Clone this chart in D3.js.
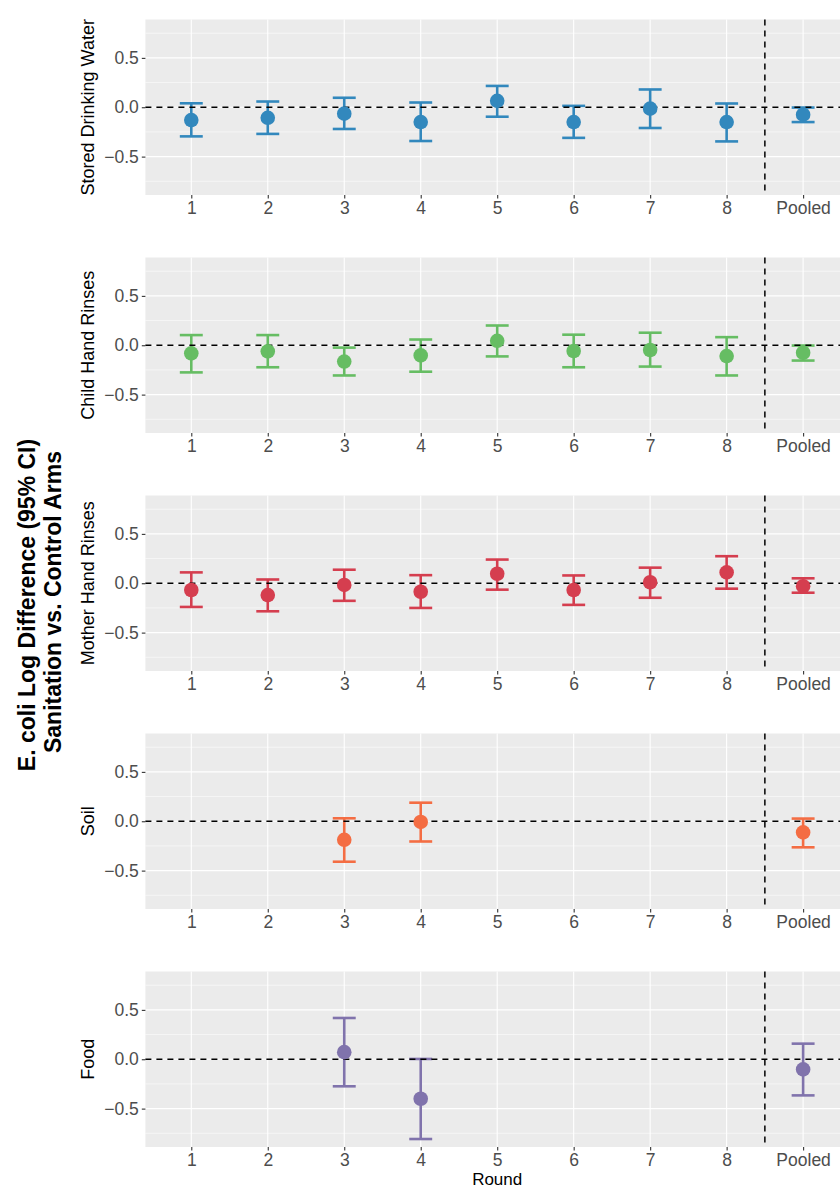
<!DOCTYPE html>
<html>
<head>
<meta charset="utf-8">
<script src="https://cdn.jsdelivr.net/npm/d3@7"></script>
<style>
  html, body { margin: 0; padding: 0; background: #fff; }
  svg { display: block; }
  text { font-family: "Liberation Sans", Arial, Helvetica, sans-serif; }
</style>
</head>
<body>
<svg id="chart" width="840" height="1189"></svg>
<script>
// ---- data ----
const rounds = ["1", "2", "3", "4", "5", "6", "7", "8", "Pooled"];
const panelNames = ["Stored Drinking Water", "Child Hand Rinses", "Mother Hand Rinses", "Soil", "Food"];
const panelColors = ["#3288BD", "#66BD63", "#D53E4F", "#F46D43", "#8073AC"];
const yTicks = [-0.5, 0.0, 0.5];
const yMinorTicks = [-0.75, -0.25, 0.25, 0.75];

const sdwEst = [-0.130, -0.107, -0.065, -0.150, 0.065, -0.150, -0.014, -0.150, -0.075];
const sdwLo  = [-0.295, -0.270, -0.220, -0.342, -0.096, -0.310, -0.210, -0.346, -0.150];
const sdwHi  = [0.040, 0.058, 0.096, 0.048, 0.216, 0.014, 0.180, 0.038, -0.003];

const chrEst = [-0.082, -0.062, -0.165, -0.103, 0.045, -0.058, -0.048, -0.110, -0.076];
const chrLo  = [-0.275, -0.223, -0.306, -0.268, -0.113, -0.223, -0.216, -0.306, -0.155];
const chrHi  = [0.103, 0.103, -0.024, 0.058, 0.200, 0.107, 0.127, 0.082, -0.003];

const mhrEst = [-0.068, -0.120, -0.017, -0.086, 0.096, -0.068, 0.010, 0.110, -0.030];
const mhrLo  = [-0.240, -0.284, -0.178, -0.250, -0.065, -0.219, -0.147, -0.055, -0.096];
const mhrHi  = [0.110, 0.038, 0.137, 0.082, 0.240, 0.079, 0.158, 0.274, 0.050];

const soilEst = [null, null, -0.188, -0.007, null, null, null, null, -0.113];
const soilLo  = [null, null, -0.410, -0.205, null, null, null, null, -0.264];
const soilHi  = [null, null, 0.030, 0.188, null, null, null, null, 0.027];

const foodEst = [null, null, 0.072, -0.400, null, null, null, null, -0.103];
const foodLo  = [null, null, -0.274, -0.808, null, null, null, null, -0.366];
const foodHi  = [null, null, 0.418, 0.003, null, null, null, null, 0.158];

const panelData = [
  [sdwEst, sdwLo, sdwHi],
  [chrEst, chrLo, chrHi],
  [mhrEst, mhrLo, mhrHi],
  [soilEst, soilLo, soilHi],
  [foodEst, foodLo, foodHi]
];

// ---- layout ----
const svg = d3.select("#chart");
const plotLeft = 145.4, plotRight = 849;
const panelTop0 = 19.5, panelStep = 238, panelH = 175.5;
const tickFont = 17.5, titleFont = 18, bigFont = 23;

const x = d3.scalePoint().domain(rounds).range([plotLeft, plotRight]).padding(0.6);
const step = x.step();

// symmetric y-limit from data, expanded 10%
let maxAbs = 0;
panelData.forEach(([e, lo, hi]) => {
  lo.concat(hi).forEach(v => { if (v != null) maxAbs = Math.max(maxAbs, Math.abs(v)); });
});
const yLim = maxAbs * 1.1;

panelNames.forEach((name, i) => {
  const top = panelTop0 + i * panelStep;
  const y = d3.scaleLinear().domain([-yLim, yLim]).range([top + panelH, top]);
  const g = svg.append("g");
  const col = panelColors[i];
  const [est, lo, hi] = panelData[i];

  g.append("rect").attr("x", plotLeft).attr("y", top)
    .attr("width", plotRight - plotLeft).attr("height", panelH).attr("fill", "#EBEBEB");

  g.selectAll(".minor").data(yMinorTicks).enter().append("line")
    .attr("x1", plotLeft).attr("x2", plotRight)
    .attr("y1", d => y(d)).attr("y2", d => y(d))
    .attr("stroke", "#fff").attr("stroke-width", 0.55);

  g.selectAll(".major").data(yTicks).enter().append("line")
    .attr("x1", plotLeft).attr("x2", plotRight)
    .attr("y1", d => y(d)).attr("y2", d => y(d))
    .attr("stroke", "#fff").attr("stroke-width", 1.1);

  g.selectAll(".vgrid").data(rounds).enter().append("line")
    .attr("x1", d => x(d)).attr("x2", d => x(d))
    .attr("y1", top).attr("y2", top + panelH)
    .attr("stroke", "#fff").attr("stroke-width", 1.1);

  // y axis
  const yAxis = d3.axisLeft(y).tickValues(yTicks).tickSize(3.6).tickPadding(3)
    .tickFormat(d => d3.format(".1f")(d).replace("-", "\u2212"));
  const ya = g.append("g").attr("transform", `translate(${plotLeft},0)`).call(yAxis);
  ya.select(".domain").remove();
  ya.selectAll(".tick line").attr("stroke", "#333").attr("stroke-width", 1.1);
  ya.selectAll(".tick text").attr("fill", "#4D4D4D").attr("font-size", tickFont)
    .attr("font-family", "Liberation Sans, Arial, sans-serif");

  // x axis
  const xAxis = d3.axisBottom(x).tickSize(3.6).tickPadding(2.5);
  const xa = g.append("g").attr("transform", `translate(0,${top + panelH})`).call(xAxis);
  xa.select(".domain").remove();
  xa.selectAll(".tick line").attr("stroke", "#333").attr("stroke-width", 1.1);
  xa.selectAll(".tick text").attr("fill", "#4D4D4D").attr("font-size", tickFont)
    .attr("font-family", "Liberation Sans, Arial, sans-serif");

  // panel y title
  g.append("text")
    .attr("transform", `translate(94,${top + panelH / 2}) rotate(-90)`)
    .attr("text-anchor", "middle").attr("font-size", titleFont).attr("fill", "#000")
    .text(name);

  const idx = rounds.map((r, k) => k).filter(k => est[k] != null);

  // error bars
  const eb = g.append("g").attr("stroke", col).attr("stroke-width", 2.6).attr("fill", "none");
  eb.selectAll(".v").data(idx).enter().append("line")
    .attr("x1", k => x(rounds[k])).attr("x2", k => x(rounds[k]))
    .attr("y1", k => y(lo[k])).attr("y2", k => y(hi[k]));
  eb.selectAll(".cl").data(idx).enter().append("line")
    .attr("x1", k => x(rounds[k]) - step * 0.15).attr("x2", k => x(rounds[k]) + step * 0.15)
    .attr("y1", k => y(lo[k])).attr("y2", k => y(lo[k]));
  eb.selectAll(".ch").data(idx).enter().append("line")
    .attr("x1", k => x(rounds[k]) - step * 0.15).attr("x2", k => x(rounds[k]) + step * 0.15)
    .attr("y1", k => y(hi[k])).attr("y2", k => y(hi[k]));

  // reference lines
  g.append("line").attr("x1", plotLeft).attr("x2", plotRight)
    .attr("y1", y(0)).attr("y2", y(0))
    .attr("stroke", "#000").attr("stroke-width", 1.5).attr("stroke-dasharray", "6,5");
  const xSep = (x("8") + x("Pooled")) / 2;
  g.append("line").attr("x1", xSep).attr("x2", xSep)
    .attr("y1", top).attr("y2", top + panelH)
    .attr("stroke", "#000").attr("stroke-width", 1.5).attr("stroke-dasharray", "6,5");

  // points
  g.selectAll(".pt").data(idx).enter().append("circle")
    .attr("cx", k => x(rounds[k])).attr("cy", k => y(est[k]))
    .attr("r", 7.3).attr("fill", col);
});

// x axis title
svg.append("text").attr("x", (plotLeft + plotRight) / 2).attr("y", 1185)
  .attr("text-anchor", "middle").attr("font-size", 17).attr("fill", "#000").text("Round");

// overall y title
const tg = svg.append("g").attr("font-weight", "bold").attr("font-size", bigFont).attr("fill", "#000")
  .attr("text-anchor", "middle");
tg.append("text").attr("transform", "translate(35,605) rotate(-90)")
  .text("E. coli Log Difference (95% CI)");
tg.append("text").attr("transform", "translate(61,602) rotate(-90)")
  .text("Sanitation vs. Control Arms");
</script>
</body>
</html>
